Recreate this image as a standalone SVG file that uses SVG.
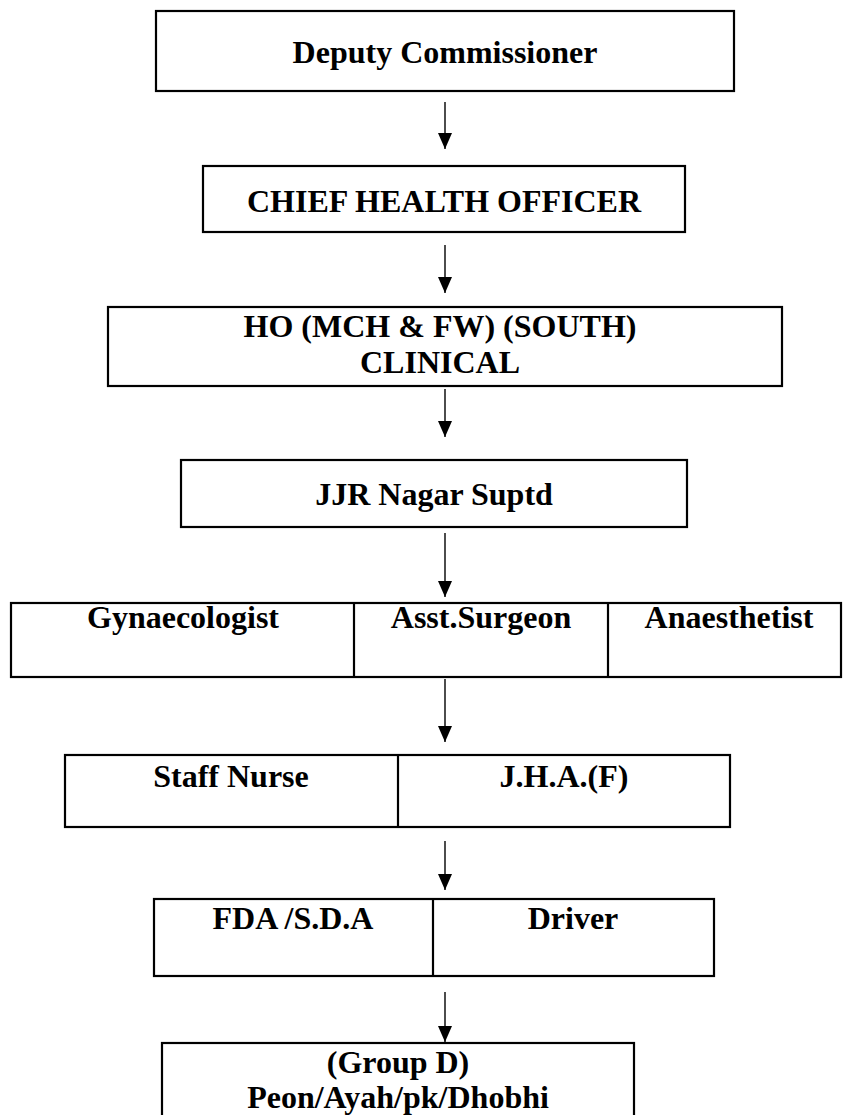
<svg xmlns="http://www.w3.org/2000/svg" width="843" height="1115" viewBox="0 0 843 1115">
<style>
.box{fill:#fff;stroke:#000;stroke-width:2.2}
.div{stroke:#000;stroke-width:2.2}
.t{font-family:"Liberation Serif","Times New Roman",serif;font-weight:bold;font-size:32px;fill:#000;text-anchor:middle}
.c{stroke:#000;stroke-width:1.4;fill:none}
</style>
<defs>
<marker id="ah" viewBox="0 0 16 14" refX="16" refY="7" markerWidth="16" markerHeight="14" markerUnits="userSpaceOnUse" orient="auto">
<path d="M0,0 L16,7 L0,14 z" fill="#000"/>
</marker>
</defs>
<rect width="843" height="1115" fill="#fff"/>
<g id="connectors">
<line class="c" x1="445" y1="102" x2="445" y2="149" marker-end="url(#ah)"/>
<line class="c" x1="445" y1="245" x2="445" y2="293" marker-end="url(#ah)"/>
<line class="c" x1="445" y1="389" x2="445" y2="437" marker-end="url(#ah)"/>
<line class="c" x1="445" y1="533" x2="445" y2="597" marker-end="url(#ah)"/>
<line class="c" x1="445" y1="679" x2="445" y2="742" marker-end="url(#ah)"/>
<line class="c" x1="445" y1="841" x2="445" y2="890" marker-end="url(#ah)"/>
<line class="c" x1="445" y1="992" x2="445" y2="1042" marker-end="url(#ah)"/>
</g>
<g id="deputy-commissioner">
<rect class="box" x="156" y="11" width="578" height="80"/>
<text class="t" x="445" y="63">Deputy Commissioner</text>
</g>
<g id="chief-health-officer">
<rect class="box" x="203" y="166" width="482" height="66"/>
<text class="t" x="444" y="212">CHIEF HEALTH OFFICER</text>
</g>
<g id="ho-mch-fw">
<rect class="box" x="108" y="307" width="674" height="79"/>
<text class="t" x="440" y="337">HO (MCH &amp; FW) (SOUTH)</text>
<text class="t" x="440" y="373">CLINICAL</text>
</g>
<g id="jjr-nagar-suptd">
<rect class="box" x="181" y="460" width="506" height="67"/>
<text class="t" x="434" y="505">JJR Nagar Suptd</text>
</g>
<g id="row-doctors">
<rect class="box" x="11" y="603" width="830" height="74"/>
<line class="div" x1="354" y1="603" x2="354" y2="677"/>
<line class="div" x1="608" y1="603" x2="608" y2="677"/>
<text class="t" x="183" y="628">Gynaecologist</text>
<text class="t" x="481" y="628">Asst.Surgeon</text>
<text class="t" x="729" y="628">Anaesthetist</text>
</g>
<g id="row-nurses">
<rect class="box" x="65" y="755" width="665" height="72"/>
<line class="div" x1="398" y1="755" x2="398" y2="827"/>
<text class="t" x="231" y="787">Staff Nurse</text>
<text class="t" x="564" y="787">J.H.A.(F)</text>
</g>
<g id="row-admin">
<rect class="box" x="154" y="899" width="560" height="77"/>
<line class="div" x1="433" y1="899" x2="433" y2="976"/>
<text class="t" x="293" y="929">FDA /S.D.A</text>
<text class="t" x="573" y="929">Driver</text>
</g>
<g id="group-d">
<rect class="box" x="162" y="1043" width="472" height="90"/>
<text class="t" x="398" y="1073">(Group D)</text>
<text class="t" x="398" y="1108">Peon/Ayah/pk/Dhobhi</text>
</g>
</svg>
